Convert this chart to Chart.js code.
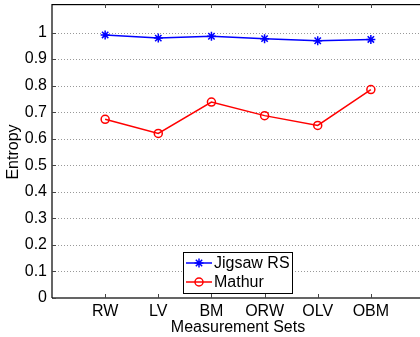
<!DOCTYPE html>
<html>
<head>
<meta charset="utf-8">
<script src="https://cdn.jsdelivr.net/npm/chart.js@4.4.1/dist/chart.umd.min.js"></script>
<style>
  html, body { margin: 0; padding: 0; background: #fff; overflow: hidden; }
  #wrap { width: 420px; height: 337px; overflow: hidden; }
</style>
</head>
<body>
<div id="wrap"><canvas id="chart" width="430" height="337"></canvas></div>
<script>
// data
const categories = ['RW', 'LV', 'BM', 'ORW', 'OLV', 'OBM'];
const jigsawRS = [0.991, 0.979, 0.986, 0.977, 0.969, 0.974];
const mathur = [0.673, 0.620, 0.738, 0.687, 0.650, 0.785];
const yTicks = [0, 0.1, 0.2, 0.3, 0.4, 0.5, 0.6, 0.7, 0.8, 0.9, 1];

const FONT = 'Liberation Sans, Arial, Helvetica, sans-serif';
const toPoints = arr => arr.map((v, i) => ({ x: i + 1, y: v }));

// dotted grid, axes lines + inward ticks like the matlab figure
const frame = {
  id: 'frame',
  beforeDatasetsDraw(chart) {
    const { ctx, chartArea: a, scales } = chart;
    ctx.save();
    ctx.strokeStyle = '#999';
    ctx.lineWidth = 1;
    ctx.setLineDash([1, 2]);
    ctx.beginPath();
    yTicks.forEach(v => {
      if (v === 0) return;
      const y = Math.round(scales.y.getPixelForValue(v)) + 0.5;
      ctx.moveTo(a.left, y); ctx.lineTo(a.right, y);
    });
    ctx.stroke();
    ctx.restore();
  },
  afterDraw(chart) {
    const { ctx, chartArea: a, scales } = chart;
    ctx.save();
    ctx.fillStyle = '#000';
    // top, left and bottom axis lines (right side falls outside the figure)
    ctx.fillRect(a.left, 4, a.right - a.left, 1.2);
    ctx.fillRect(a.left - 0.6, 4, 1.2, a.bottom - 4);
    ctx.fillRect(a.left, a.bottom - 0.6, a.right - a.left, 1.2);
    ctx.fillStyle = '#444';
    categories.forEach((c, i) => {
      const x = Math.round(scales.x.getPixelForValue(i + 1));
      ctx.fillRect(x, a.bottom - 4, 1, 4);
      ctx.fillRect(x, 4, 1, 4);
    });
    yTicks.forEach(v => {
      const y = Math.round(scales.y.getPixelForValue(v));
      ctx.fillRect(a.left, y, 4, 1);
    });

    // legend box inside the plot
    const bx = 183, by = 252, bw = 109, bh = 41;
    ctx.fillStyle = '#fff';
    ctx.fillRect(bx, by, bw, bh);
    ctx.strokeStyle = '#000';
    ctx.lineWidth = 1;
    ctx.strokeRect(bx + 0.5, by + 0.5, bw, bh);
    chart.data.datasets.forEach((ds, i) => {
      const y = by + 11 + i * 19;
      ctx.strokeStyle = ds.borderColor;
      ctx.fillStyle = ds.backgroundColor;
      ctx.lineWidth = 1.5;
      ctx.beginPath();
      ctx.moveTo(bx + 3, y); ctx.lineTo(bx + 29, y);
      ctx.stroke();
      Chart.helpers.drawPoint(ctx, {
        pointStyle: ds.pointStyle, radius: ds.pointRadius, borderWidth: 1.5
      }, bx + 16, y);
      ctx.fillStyle = '#000';
      ctx.font = '16px ' + FONT;
      ctx.textBaseline = 'middle';
      ctx.fillText(ds.label, bx + 31, y + 1);
    });
    ctx.restore();
  }
};

new Chart(document.getElementById('chart'), {
  type: 'line',
  data: {
    datasets: [
      {
        label: 'Jigsaw RS',
        data: toPoints(jigsawRS),
        borderColor: '#0000ff',
        backgroundColor: '#0000ff',
        borderWidth: 1.5,
        pointStyle: 'star',
        pointRadius: 4.5,
        pointBorderWidth: 1.5
      },
      {
        label: 'Mathur',
        data: toPoints(mathur),
        borderColor: '#ff0000',
        backgroundColor: 'rgba(0,0,0,0)',
        borderWidth: 1.5,
        pointStyle: 'circle',
        pointRadius: 4,
        pointBorderWidth: 1.5
      }
    ]
  },
  options: {
    responsive: false,
    animation: false,
    layout: { padding: { top: 4, right: 6, left: 0, bottom: 0 } },
    plugins: { legend: { display: false }, tooltip: { enabled: false } },
    scales: {
      x: {
        type: 'linear',
        min: 0,
        max: 7,
        afterBuildTicks: s => { s.ticks = categories.map((c, i) => ({ value: i + 1 })); },
        afterFit: s => { s.height = 39; s.paddingLeft = 0; s.paddingRight = 0; },
        grid: { display: false, drawTicks: false },
        border: { display: false },
        ticks: {
          autoSkip: false,
          maxRotation: 0,
          padding: 4,
          color: '#000',
          font: { family: FONT, size: 16 },
          callback: v => categories[v - 1] || ''
        },
        title: {
          display: true,
          text: 'Measurement Sets',
          color: '#000',
          font: { family: FONT, size: 16 },
          padding: { top: 0, bottom: 0 }
        }
      },
      y: {
        min: 0,
        max: 1.1,
        afterBuildTicks: s => { s.ticks = yTicks.map(v => ({ value: v })); },
        afterFit: s => { s.width = 52; s.paddingTop = 0; s.paddingBottom = 0; },
        grid: { display: false, drawTicks: false },
        border: { display: false },
        ticks: {
          padding: 5,
          color: '#000',
          font: { family: FONT, size: 16 },
          callback: v => String(v)
        },
        title: {
          display: true,
          text: 'Entropy',
          color: '#000',
          font: { family: FONT, size: 16 },
          padding: { top: 4, bottom: 0 }
        }
      }
    }
  },
  plugins: [frame]
});
</script>
</body>
</html>
